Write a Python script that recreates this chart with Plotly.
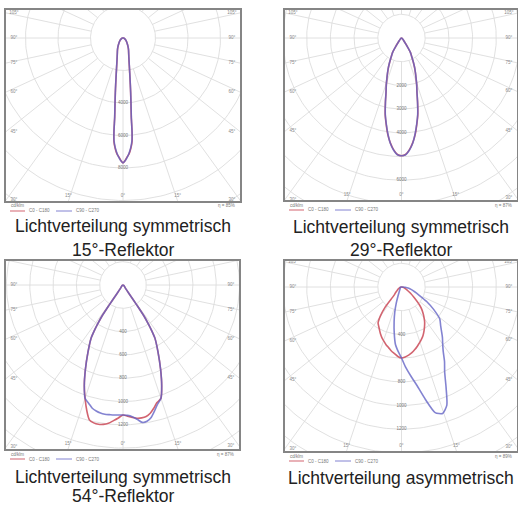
import numpy as np
import plotly.graph_objects as go

W, H = 518, 505

# ------------------------------------------------------------------ data
# luminous intensity (cd/klm) over gamma angle (deg from nadir)
TL_GAMMA = [0, 1, 2, 3, 4, 5, 5.5, 6, 7, 8, 9, 10, 12, 15, 20, 25, 30, 40, 50, 60, 70, 80, 90]
TL_C0 = [7690, 7540, 7320, 7140, 6830, 6400, 5850, 4860, 4000, 3380, 2860, 2460, 1910, 1420,
         1020, 800, 620, 370, 250, 150, 90, 40, 0]
TL_C90 = [7690, 7560, 7350, 7100, 6780, 6330, 5800, 4900, 4050, 3400, 2880, 2480, 1930, 1440,
          1030, 810, 630, 380, 250, 150, 90, 40, 0]

TR_GAMMA = [0, 2, 4, 6, 8, 10, 12, 14, 16, 18, 20, 22, 24, 26, 28, 30, 32, 34, 36, 40, 45, 60, 90]
TR_C0 = [4970, 4920, 4730, 4460, 4130, 3710, 3310, 2810, 2360, 2070, 1790, 1560, 1350, 1140,
         950, 820, 700, 460, 300, 150, 80, 30, 0]
TR_C90 = [4970, 4930, 4750, 4480, 4100, 3690, 3290, 2800, 2370, 2080, 1800, 1570, 1360, 1150,
          960, 810, 690, 450, 290, 150, 80, 30, 0]

BL_GAMMA = [0, 2, 4, 6, 8, 10, 12, 14, 16, 18.5, 21, 24, 27.5, 31, 32, 33, 34, 34.5, 35, 36, 40, 50, 60, 90]
BL_C0 = [1116, 1127, 1139, 1150, 1152, 1146, 1125, 1090, 1052, 1026, 927, 794, 652, 532, 472,
         403, 326, 215, 112, 52, 26, 13, 7, 0]
BL_C180 = [1116, 1142, 1167, 1193, 1208, 1214, 1210, 1193, 1125, 1026, 927, 794, 652, 532, 472,
           403, 326, 215, 112, 52, 26, 13, 7, 0]
BL_C90 = [1116, 1120, 1133, 1159, 1191, 1188, 1163, 1116, 1069, 1026, 927, 794, 652, 532, 472,
          403, 326, 215, 112, 52, 26, 13, 7, 0]
BL_C270 = [1116, 1117, 1119, 1119, 1120, 1116, 1106, 1090, 1060, 1026, 927, 794, 652, 532, 472,
           403, 326, 215, 112, 52, 26, 13, 7, 0]

BR_GAMMA = [0, 3, 6, 9, 12, 15, 18, 21, 24, 27, 30, 33, 36, 39, 42, 45, 50, 55, 60, 65, 70, 80, 90]
BR_C0 = [599, 591, 578, 561, 540, 517, 494, 471, 447, 418, 388, 359, 325, 291, 257, 215, 139,
         93, 59, 42, 30, 13, 0]
BR_C180 = [599, 587, 565, 547, 523, 504, 481, 460, 435, 408, 384, 363, 304, 219, 93, 76, 51,
           38, 30, 21, 17, 8, 0]
BR_C90 = [599, 679, 755, 844, 970, 1097, 1122, 1068, 924, 802, 726, 646, 591, 549, 505, 468,
          422, 333, 245, 165, 118, 63, 0]
BR_C270 = [599, 544, 488, 392, 300, 219, 143, 84, 55, 38, 30, 25, 21, 19, 17, 17, 15, 14, 13,
           11, 10, 8, 0]

TITLES = [["Lichtverteilung symmetrisch", "15°-Reflektor"],
          ["Lichtverteilung symmetrisch", "29°-Reflektor"],
          ["Lichtverteilung symmetrisch", "54°-Reflektor"],
          ["Lichtverteilung asymmetrisch"]]
ETA = ["η = 85%", "η = 87%", "η = 87%", "η = 89%"]
LEGEND_LABELS = ["C0 - C180", "C90 - C270"]
UNIT_LABEL = "cd/klm"

# ------------------------------------------------------------------ layout of the four diagrams (pixels)
charts = [
    dict(box=(6, 10, 240, 201), origin=(123, 38), step_px=32.5, step=2000, labels=[2, 3, 4],
         gamma=TL_GAMMA, c0=TL_C0, c180=TL_C0, c90=TL_C90, c270=TL_C90, title_y=[226, 250]),
    dict(box=(285, 10, 517, 200), origin=(401.5, 38), step_px=23.7, step=1000, labels=[2, 3, 4, 6],
         gamma=TR_GAMMA, c0=TR_C0, c180=TR_C0, c90=TR_C90, c270=TR_C90, title_y=[227, 250]),
    dict(box=(6, 261, 239, 449), origin=(123, 285), step_px=23.3, step=200, labels=[2, 3, 4, 5, 6],
         gamma=BL_GAMMA, c0=BL_C0, c180=BL_C180, c90=BL_C90, c270=BL_C270, title_y=[477, 496]),
    dict(box=(285, 261, 517, 451), origin=(401.5, 287), step_px=23.7, step=200, labels=[2, 4, 5, 6],
         gamma=BR_GAMMA, c0=BR_C0, c180=BR_C180, c90=BR_C90, c270=BR_C270, title_y=[478]),
]

RED = "rgba(208,92,104,0.95)"
BLUE = "rgba(96,96,196,0.78)"
GRID = "#dcdcdc"
SQUASH = 0.8

fig = go.Figure()


def px(xp):
    return xp / W


def py(yp):
    return 1 - yp / H


for i, c in enumerate(charts):
    k = i + 1
    xa = "x" if k == 1 else f"x{k}"
    ya = "y" if k == 1 else f"y{k}"
    x0, y0, x1, y1 = c["box"]
    ox, oy = c["origin"]
    u = c["step"] / c["step_px"]  # cd/klm per pixel
    xr = [(x0 - ox) * u, (x1 - ox) * u]
    yr = [-(y1 - oy) * u, (oy - y0) * u]
    s = c["step"]

    # circles
    t = np.linspace(0, 2 * np.pi, 241)
    for n in range(1, 11):
        fig.add_trace(go.Scatter(x=n * s * np.sin(t), y=n * s * np.cos(t), mode="lines",
                                 line=dict(color=GRID, width=0.9), hoverinfo="skip",
                                 showlegend=False, xaxis=xa, yaxis=ya))
    # radial lines
    lab_x, lab_y, lab_t = [], [], []
    for phi in range(-165, 181, 15):
        pr = np.radians(phi)
        d = np.array([np.sin(pr), -SQUASH * np.cos(pr)])
        d = d / np.hypot(*d)
        fig.add_trace(go.Scatter(x=[s * d[0], 30 * s * d[0]], y=[s * d[1], 30 * s * d[1]],
                                 mode="lines", line=dict(color=GRID, width=0.9),
                                 hoverinfo="skip", showlegend=False, xaxis=xa, yaxis=ya))
        cands = []
        if d[0] > 1e-9:
            cands.append((xr[1] / d[0], "r"))
        if d[0] < -1e-9:
            cands.append((xr[0] / d[0], "l"))
        if d[1] < -1e-9:
            cands.append((yr[0] / d[1], "b"))
        if d[1] > 1e-9:
            cands.append((yr[1] / d[1], "t"))
        tt, side = min(cands)
        hx, hy = tt * d[0], tt * d[1]
        if side == "l":
            hx = xr[0] + 8 * u
        elif side == "r":
            hx = xr[1] - 8 * u
        elif side == "b":
            hy = yr[0] + 5 * u
            hx = max(min(hx, xr[1] - 8 * u), xr[0] + 8 * u)
        else:
            continue
        lab_x.append(hx)
        lab_y.append(hy)
        lab_t.append(f"{abs(phi)}°")
    fig.add_trace(go.Scatter(x=lab_x, y=lab_y, text=lab_t, mode="text",
                             textfont=dict(size=4.5, color="#8a8a8a", family="Liberation Sans"),
                             hoverinfo="skip", showlegend=False, xaxis=xa, yaxis=ya))
    # intensity labels on the nadir line
    fig.add_trace(go.Scatter(x=[0] * len(c["labels"]), y=[-n * s for n in c["labels"]],
                             text=[str(n * s) for n in c["labels"]], mode="text",
                             textfont=dict(size=4.5, color="#777", family="Liberation Sans"),
                             hoverinfo="skip", showlegend=False, xaxis=xa, yaxis=ya))

    # curves
    g = np.radians(np.array(c["gamma"], dtype=float))
    for left, right, col in ((c["c180"], c["c0"], RED), (c["c270"], c["c90"], BLUE)):
        L = np.array(left, dtype=float)
        R = np.array(right, dtype=float)
        xs = np.concatenate([-(L * np.sin(g))[::-1], (R * np.sin(g))[1:]])
        ys = np.concatenate([-(L * np.cos(g))[::-1], -(R * np.cos(g))[1:]])
        fig.add_trace(go.Scatter(x=xs, y=ys, mode="lines",
                                 line=dict(color=col, width=1.6, shape="spline", smoothing=0.6),
                                 hoverinfo="skip", showlegend=False, xaxis=xa, yaxis=ya))

    axname = "xaxis" if k == 1 else f"xaxis{k}"
    ayname = "yaxis" if k == 1 else f"yaxis{k}"
    fig.update_layout({
        axname: dict(domain=[px(x0), px(x1)], range=xr, anchor=ya, showgrid=False,
                     zeroline=False, showticklabels=False, ticks="", showline=True,
                     mirror=True, linecolor="#858585", linewidth=1.6, fixedrange=True),
        ayname: dict(domain=[py(y1), py(y0)], range=yr, anchor=xa, showgrid=False,
                     zeroline=False, showticklabels=False, ticks="", showline=True,
                     mirror=True, linecolor="#858585", linewidth=1.6, fixedrange=True),
    })

    # legend strip under the frame
    small = dict(size=4.5, color="#777", family="Liberation Sans")
    fig.add_annotation(x=px(x0 + 3), y=py(y1 + 5), xref="paper", yref="paper", text=UNIT_LABEL,
                       showarrow=False, xanchor="left", yanchor="middle", font=small)
    fig.add_annotation(x=px(x1 - 3), y=py(y1 + 5), xref="paper", yref="paper", text=ETA[i],
                       showarrow=False, xanchor="right", yanchor="middle", font=small)
    fig.add_shape(type="line", xref="paper", yref="paper", x0=px(x0 + 4), x1=px(x0 + 19),
                  y0=py(y1 + 10), y1=py(y1 + 10), line=dict(color=RED, width=1))
    fig.add_annotation(x=px(x0 + 21), y=py(y1 + 10), xref="paper", yref="paper",
                       text=LEGEND_LABELS[0], showarrow=False, xanchor="left", yanchor="middle",
                       font=small)
    fig.add_shape(type="line", xref="paper", yref="paper", x0=px(x0 + 50), x1=px(x0 + 66),
                  y0=py(y1 + 10), y1=py(y1 + 10), line=dict(color=BLUE, width=1))
    fig.add_annotation(x=px(x0 + 68), y=py(y1 + 10), xref="paper", yref="paper",
                       text=LEGEND_LABELS[1], showarrow=False, xanchor="left", yanchor="middle",
                       font=small)

    # titles
    for txt, ty in zip(TITLES[i], c["title_y"]):
        fig.add_annotation(x=px((x0 + x1) / 2), y=py(ty), xref="paper", yref="paper", text=txt,
                           showarrow=False, xanchor="center", yanchor="middle", borderpad=0,
                           font=dict(size=17.5, color="#222", family="Liberation Sans, Arial"))

fig.update_layout(width=W, height=H, margin=dict(l=0, r=0, t=0, b=0),
                  paper_bgcolor="white", plot_bgcolor="white", showlegend=False)

fig.write_html("out.html", config={"displayModeBar": False, "staticPlot": True},
               post_script="document.body.style.margin='0';document.body.style.overflow='hidden';")
